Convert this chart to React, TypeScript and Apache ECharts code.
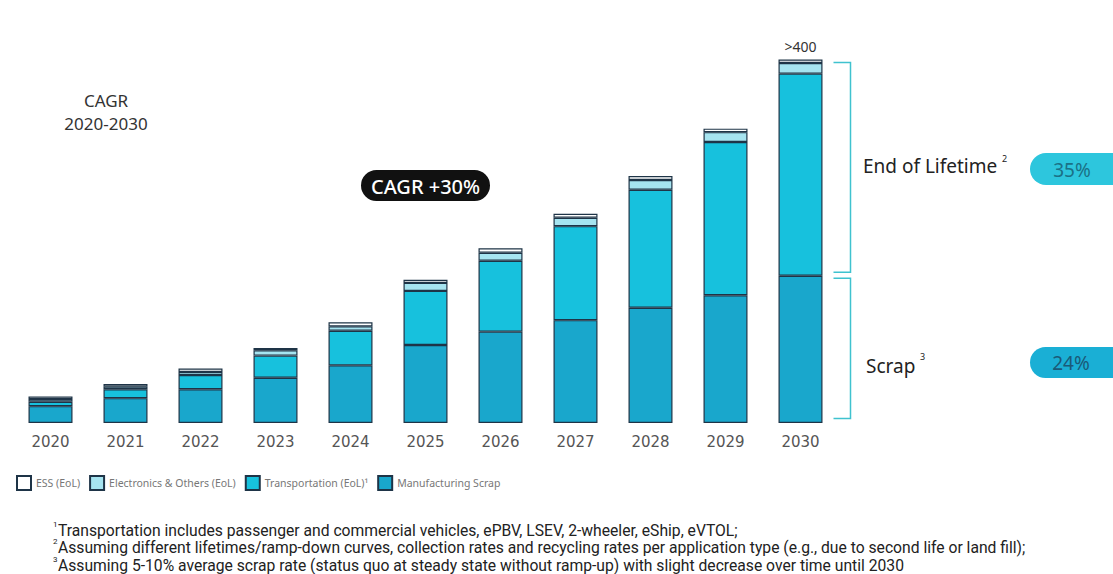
import React, { useEffect, useRef } from "react";
import * as echarts from "echarts";

const years = ["2020", "2021", "2022", "2023", "2024", "2025", "2026", "2027", "2028", "2029", "2030"];
const manufacturingScrap = [19, 28, 38, 51, 65, 88, 103, 116, 130, 144, 166];
const transportation = [5, 10, 16, 25, 39, 61, 80, 106, 133, 173, 228];
const electronics = [3, 3, 3.5, 6, 5, 9, 9, 9.5, 11, 11, 12];
const ess = [3, 3, 4, 2.5, 4.5, 3.5, 5, 4.5, 4.5, 4, 4];
const seriesNames = ["ESS (EoL)", "Electronics & Others (EoL)", "Transportation (EoL)¹", "Manufacturing Scrap"];
const totalLabel = ">400";
const cagrPeriodText = "CAGR\n2020-2030";
const cagrOverallText = "CAGR +30%";
const segmentTitles = ["End of Lifetime", "Scrap"];
const segmentNotes = ["2", "3"];
const segmentCagr = ["35%", "24%"];
const footnoteMarks = ["1", "2", "3"];
const footnotes = [
  "Transportation includes passenger and commercial vehicles, ePBV, LSEV, 2-wheeler, eShip, eVTOL;",
  "Assuming different lifetimes/ramp-down curves, collection rates and recycling rates per application type (e.g., due to second life or land fill);",
  "Assuming 5-10% average scrap rate (status quo at steady state without ramp-up) with slight decrease over time until 2030",
];

const COLORS = {
  ess: "#ffffff",
  electronics: "#a6e4f0",
  transport: "#17c1dd",
  scrap: "#19a7cc",
  border: "#1e3447",
  bracket: "#3fc2cf",
};

const SANS = "'Noto Sans', Roboto, sans-serif";

export default function App() {
  const ref = useRef<HTMLDivElement>(null);

  useEffect(() => {
    if (!ref.current) return;
    const chart = echarts.init(ref.current, null, { renderer: "svg" });
    const last = years.length - 1;
    const barStyle = (color: string) => ({ color, borderColor: COLORS.border, borderWidth: 1.2 });

    chart.setOption({
      animation: false,
      backgroundColor: "#ffffff",
      grid: { left: 13, top: 24, width: 825, height: 399, outerBoundsMode: "none", containLabel: false },
      legend: {
        data: seriesNames,
        left: 11,
        top: 470,
        itemWidth: 14,
        itemHeight: 14,
        itemGap: 9,
        icon: "rect",
        textStyle: { color: "#777", fontSize: 10.5, fontFamily: SANS },
      },
      xAxis: {
        type: "category",
        data: years,
        axisLine: { show: false },
        axisTick: { show: false },
        axisLabel: { color: "#555", fontSize: 15, fontFamily: "'DejaVu Sans', sans-serif", margin: 11 },
      },
      yAxis: { type: "value", min: 0, max: 450, show: false, splitLine: { show: false } },
      series: [
        { name: seriesNames[3], type: "bar", stack: "t", barWidth: 44, data: manufacturingScrap, itemStyle: barStyle(COLORS.scrap) },
        { name: seriesNames[2], type: "bar", stack: "t", barWidth: 44, data: transportation, itemStyle: barStyle(COLORS.transport) },
        { name: seriesNames[1], type: "bar", stack: "t", barWidth: 44, data: electronics, itemStyle: barStyle(COLORS.electronics) },
        {
          name: seriesNames[0],
          type: "bar",
          stack: "t",
          barWidth: 44,
          itemStyle: barStyle(COLORS.ess),
          data: ess.map((v, i) =>
            i === last
              ? { value: v, label: { show: true, position: "top", formatter: totalLabel, color: "#333", fontSize: 14, fontFamily: SANS, distance: 6 } }
              : v
          ),
        },
      ],
    });

    const total = manufacturingScrap[last] + transportation[last] + electronics[last] + ess[last];
    const pTop = chart.convertToPixel({ gridIndex: 0 }, [last, total]) as number[];
    const pMid = chart.convertToPixel({ gridIndex: 0 }, [last, manufacturingScrap[last]]) as number[];
    const pBase = chart.convertToPixel({ gridIndex: 0 }, [last, 0]) as number[];
    const bx0 = pTop[0] + 33;
    const bx1 = pTop[0] + 50;
    const bracket = (y0: number, y1: number) => ({
      type: "polyline",
      shape: { points: [[bx0, y0], [bx1, y0], [bx1, y1], [bx0, y1]] },
      style: { stroke: COLORS.bracket, lineWidth: 1.5, fill: null },
    });

    const graphics: any[] = [
      {
        type: "text",
        x: 106,
        y: 112,
        style: { text: cagrPeriodText, fill: "#333", fontSize: 17, fontFamily: SANS, align: "center", verticalAlign: "middle", lineHeight: 23 },
      },
      { type: "rect", shape: { x: 361, y: 170, width: 129, height: 31, r: 15.5 }, style: { fill: "#111111" } },
      {
        type: "text",
        x: 425.5,
        y: 186,
        style: { text: cagrOverallText, fill: "#ffffff", fontSize: 20, fontWeight: 500, fontFamily: SANS, align: "center", verticalAlign: "middle" },
      },
      bracket(pTop[1] + 3, pMid[1] - 3.5),
      bracket(pMid[1] + 2.5, pBase[1] - 4.5),
      {
        type: "text",
        x: 863,
        y: 166,
        style: { text: segmentTitles[0], fill: "#222", fontSize: 19, fontFamily: SANS, align: "left", verticalAlign: "middle" },
      },
      { type: "text", x: 1002, y: 158, style: { text: segmentNotes[0], fill: "#222", fontSize: 9, fontFamily: SANS, align: "left", verticalAlign: "middle" } },
      {
        type: "text",
        x: 866,
        y: 366,
        style: { text: segmentTitles[1], fill: "#222", fontSize: 19, fontFamily: SANS, align: "left", verticalAlign: "middle" },
      },
      { type: "text", x: 920, y: 356, style: { text: segmentNotes[1], fill: "#222", fontSize: 9, fontFamily: SANS, align: "left", verticalAlign: "middle" } },
      { type: "rect", shape: { x: 1030, y: 153, width: 110, height: 32, r: 16 }, style: { fill: "#2dc6dd" } },
      {
        type: "text",
        x: 1072,
        y: 169.5,
        style: { text: segmentCagr[0], fill: "#1b7186", fontSize: 19, fontFamily: SANS, align: "center", verticalAlign: "middle" },
      },
      { type: "rect", shape: { x: 1030, y: 347, width: 110, height: 31, r: 15.5 }, style: { fill: "#1aafd5" } },
      {
        type: "text",
        x: 1071,
        y: 363,
        style: { text: segmentCagr[1], fill: "#1a5a78", fontSize: 19, fontFamily: SANS, align: "center", verticalAlign: "middle" },
      },
    ];

    const footY = [530, 547.5, 565];
    footnotes.forEach((t, i) => {
      graphics.push({
        type: "text",
        x: 53,
        y: footY[i] - 6,
        style: { text: footnoteMarks[i], fill: "#222", fontSize: 8, fontFamily: "Roboto, sans-serif", align: "left", verticalAlign: "middle" },
      });
      graphics.push({
        type: "text",
        x: 58,
        y: footY[i],
        scaleX: 0.98,
        style: { text: t, fill: "#222", fontSize: 16, fontFamily: "Roboto, sans-serif", align: "left", verticalAlign: "middle" },
      });
    });

    chart.setOption({ graphic: graphics });

    return () => chart.dispose();
  }, []);

  return (
    <div
      ref={ref}
      style={{ position: "absolute", left: 0, top: 0, width: 1113, height: 574, background: "#fff" }}
    />
  );
}
